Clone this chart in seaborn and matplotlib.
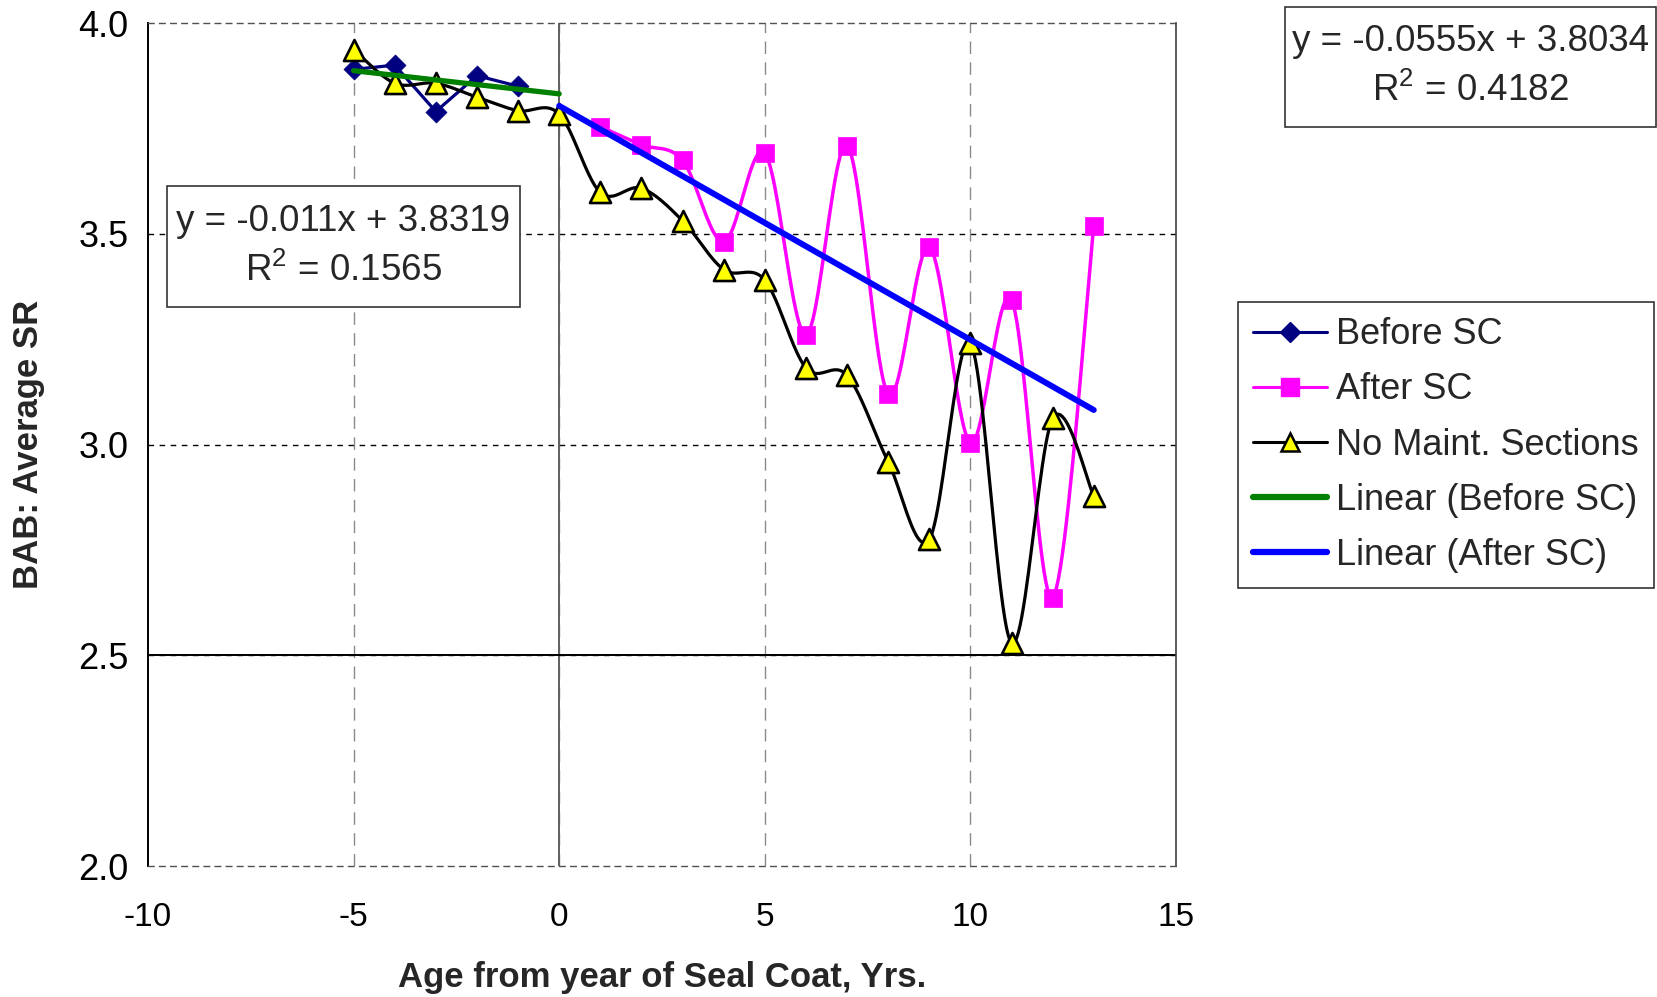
import numpy as np
import matplotlib
matplotlib.use("Agg")
import matplotlib.pyplot as plt
import seaborn as sns
from matplotlib.lines import Line2D
from matplotlib.patches import Rectangle

# ---------------- data ----------------
years_before = [-5, -4, -3, -2, -1]
sr_before = [3.89, 3.90, 3.79, 3.875, 3.85]

years_after = [1, 2, 3, 4, 5, 6, 7, 8, 9, 10, 11, 12, 13]
sr_after = [3.754, 3.711, 3.674, 3.481, 3.691, 3.260, 3.709, 3.119, 3.468,
            3.004, 3.343, 2.637, 3.518]

years_nomaint = [-5, -4, -3, -2, -1, 0, 1, 2, 3, 4, 5, 6, 7, 8, 9, 10, 11, 12, 13]
sr_nomaint = [3.937, 3.857, 3.857, 3.824, 3.792, 3.784, 3.598, 3.608, 3.531,
              3.415, 3.390, 3.182, 3.164, 2.959, 2.775, 3.240, 2.529, 3.062, 2.878]

trend_before_coef = [-0.011, 3.8319]     # slope, intercept
trend_before_r2 = 0.1565
trend_before_span = [-5, 0]
trend_after_coef = [-0.0555, 3.8034]
trend_after_r2 = 0.4182
trend_after_span = [0, 13]

x_ticks = [-10, -5, 0, 5, 10, 15]
y_ticks = [2.0, 2.5, 3.0, 3.5, 4.0]
y_tick_labels = ["2.0", "2.5", "3.0", "3.5", "4.0"]

labels = ["Before SC", "After SC", "No Maint. Sections",
          "Linear (Before SC)", "Linear (After SC)"]


def smooth(x, y, n=24):
    """Excel-like smoothed line (Bezier / Catmull-Rom through the points)."""
    P = np.column_stack([np.asarray(x, float), np.asarray(y, float)])
    Pp = np.vstack([P[0], P, P[-1]])
    out = []
    for i in range(len(P) - 1):
        p0, p1, p2, p3 = Pp[i], Pp[i + 1], Pp[i + 2], Pp[i + 3]
        c1 = p1 + (p2 - p0) / 6.0
        c2 = p2 - (p3 - p1) / 6.0
        t = np.linspace(0, 1, n, endpoint=(i == len(P) - 2))[:, None]
        seg = (1 - t) ** 3 * p1 + 3 * (1 - t) ** 2 * t * c1 + 3 * (1 - t) * t ** 2 * c2 + t ** 3 * p2
        out.append(seg)
    S = np.vstack(out)
    return S[:, 0], S[:, 1]


sns.set_theme(style="white")
plt.rcParams["font.family"] = ["Liberation Sans", "DejaVu Sans"]
plt.rcParams["mathtext.fontset"] = "custom"
plt.rcParams["mathtext.rm"] = "Liberation Sans"
plt.rcParams["mathtext.it"] = "Liberation Sans:italic"
plt.rcParams["mathtext.bf"] = "Liberation Sans:bold"

W, H = 1658, 997
fig = plt.figure(figsize=(W / 100, H / 100), dpi=100)
ax_l, ax_r, ax_t, ax_b = 148, 1176, 23, 866
ax = fig.add_axes([ax_l / W, 1 - ax_b / H, (ax_r - ax_l) / W, (ax_b - ax_t) / H])

ax.set_xlim(-10, 15)
ax.set_ylim(2.0, 4.0)
ax.set_xticks(x_ticks)
ax.set_xticklabels([str(v) for v in x_ticks])
ax.set_yticks(y_ticks)
ax.set_yticklabels(y_tick_labels)

# gridlines
for yv in y_ticks[1:-1]:
    ax.axhline(yv, color="black", lw=1.0, ls=(0, (4, 4)), zorder=1)
for xv in x_ticks[1:-1]:
    ax.axvline(xv, color="#8a8a8a", lw=1.0, ls=(0, (9, 6)), zorder=1)
# axis crossing lines
ax.axvline(0, color="#606060", lw=1.4, zorder=1.5)
ax.axhline(2.5, color="black", lw=1.4, zorder=1.5)

# series lines
sns.lineplot(x=years_before, y=sr_before, ax=ax, color="#000080", lw=2.3,
             sort=False, estimator=None, zorder=3)
xs, ys = smooth(years_after, sr_after)
sns.lineplot(x=xs, y=ys, ax=ax, color="#FF00FF", lw=2.5, sort=False,
             estimator=None, zorder=3)
xs, ys = smooth(years_nomaint, sr_nomaint)
sns.lineplot(x=xs, y=ys, ax=ax, color="black", lw=2.3, sort=False,
             estimator=None, zorder=3)

# markers
sns.scatterplot(x=years_before, y=sr_before, ax=ax, marker="D", s=115,
                color="#000080", edgecolor="#000080", linewidth=0.5, zorder=4)
sns.scatterplot(x=years_after, y=sr_after, ax=ax, marker="s", s=185,
                color="#FF00FF", edgecolor="#FF00FF", linewidth=0.5, zorder=4)
sns.scatterplot(x=years_nomaint, y=sr_nomaint, ax=ax, marker="^", s=230,
                color="#FFFF00", edgecolor="black", linewidth=1.9, zorder=4)

# trend lines
tb = np.array(trend_before_span, float)
sns.lineplot(x=tb, y=trend_before_coef[0] * tb + trend_before_coef[1], ax=ax,
             color="#008000", lw=3.8, sort=False, estimator=None, zorder=5)
ta = np.array(trend_after_span, float)
sns.lineplot(x=ta, y=trend_after_coef[0] * ta + trend_after_coef[1], ax=ax,
             color="#0000FF", lw=4.3, sort=False, estimator=None, zorder=5)

# spines
ax.spines["left"].set_color("black"); ax.spines["left"].set_linewidth(1.4)
ax.spines["right"].set_color("#404040"); ax.spines["right"].set_linewidth(1.2)
for s in ["top", "bottom"]:
    ax.spines[s].set_color("#505050"); ax.spines[s].set_linewidth(1.0)
    ax.spines[s].set_linestyle((0, (4, 4)))

ax.tick_params(axis="both", length=0, colors="black")
ax.tick_params(axis="y", pad=14, labelsize=26)
ax.tick_params(axis="x", pad=26, labelsize=24)
ax.set_xlabel("Age from year of Seal Coat, Yrs.", fontsize=25, fontweight="bold",
              labelpad=20)
ax.set_ylabel("BAB: Average SR", fontsize=25, fontweight="bold", labelpad=24)


# equation boxes
def eq_box(x0, y0, x1, y1, coef, r2):
    rect = Rectangle((x0 / W, 1 - y1 / H), (x1 - x0) / W, (y1 - y0) / H,
                     transform=fig.transFigure, facecolor="white",
                     edgecolor="#333333", lw=1.2, zorder=10)
    fig.add_artist(rect)
    cx = (x0 + x1) / 2 / W
    h = y1 - y0
    fig.text(cx, 1 - (y0 + 0.29 * h) / H, f"y = {coef[0]}x + {coef[1]}",
             ha="center", va="center", fontsize=26.5, zorder=11)
    fig.text(cx, 1 - (y0 + 0.70 * h) / H, "R$^{2}$ = " + f"{r2}",
             ha="center", va="center", fontsize=26.5, zorder=11)


eq_box(167, 186, 520, 307, trend_before_coef, trend_before_r2)
eq_box(1285, 7, 1656, 127, trend_after_coef, trend_after_r2)

# legend
handles = [
    Line2D([], [], color="#000080", lw=2.2, marker="D", markersize=10,
           markerfacecolor="#000080", markeredgecolor="#000080"),
    Line2D([], [], color="#FF00FF", lw=2.2, marker="s", markersize=13,
           markerfacecolor="#FF00FF", markeredgecolor="#FF00FF"),
    Line2D([], [], color="black", lw=2.2, marker="^", markersize=13,
           markerfacecolor="#FFFF00", markeredgecolor="black", markeredgewidth=1.8),
    Line2D([], [], color="#008000", lw=4.5),
    Line2D([], [], color="#0000FF", lw=4.5),
]
leg = fig.legend(handles, labels, loc="upper left",
                 bbox_to_anchor=(1238 / W, 1 - 302 / H), bbox_transform=fig.transFigure,
                 fontsize=26, frameon=True, fancybox=False, framealpha=1,
                 edgecolor="#333333", borderaxespad=0, handlelength=2.05,
                 handletextpad=0.25, labelspacing=0.56, borderpad=0.42)
leg.get_frame().set_linewidth(1.2)

fig.savefig("out.png", dpi=100)
